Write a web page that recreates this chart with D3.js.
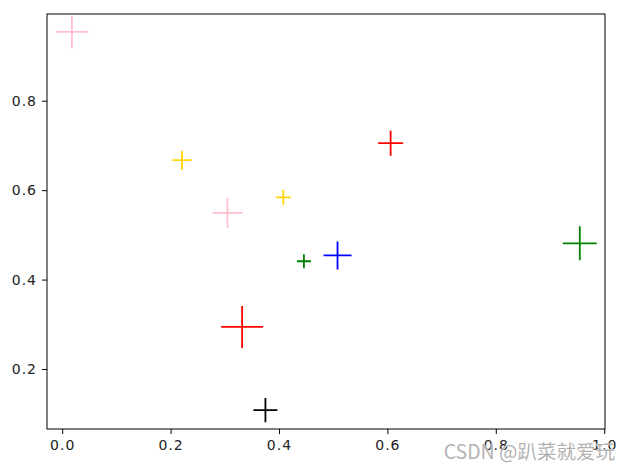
<!DOCTYPE html>
<html><head><meta charset="utf-8">
<script src="https://cdn.jsdelivr.net/npm/d3@7"></script>
<style>
html,body{margin:0;padding:0;background:#fff;}
svg{display:block;}
</style></head>
<body>
<script>
// data
const xValues = [0.018, 0.221, 0.305, 0.408, 0.446, 0.508, 0.955, 0.332, 0.375, 0.606];
const yValues = [0.954, 0.667, 0.549, 0.584, 0.441, 0.454, 0.481, 0.294, 0.108, 0.705];
const sizeValues = [564, 187, 466, 117, 102, 406, 599, 914, 299, 324];
const colorNames = ["pink", "gold", "pink", "gold", "green", "blue", "green", "red", "black", "red"];
const xTicks = [0.0, 0.2, 0.4, 0.6, 0.8, 1.0];
const yTicks = [0.2, 0.4, 0.6, 0.8];
const watermark = "CSDN @趴菜就爱玩";

const W = 630, H = 470;
const L = 47, R = 605, T = 14, B = 429;
const svg = d3.select("body").append("svg").attr("width", W).attr("height", H);

const x = d3.scaleLinear().domain([-0.028, 1.0015]).range([L, R]);
const y = d3.scaleLinear().domain([0.0658, 0.994]).range([B, T]);
const s = d3.scaleSqrt().domain([0, 1000]).range([0, Math.sqrt(1000) * 1.389]);

const font = "'DejaVu Sans', sans-serif";

// markers
const g = svg.append("g");
xValues.forEach((xv, i) => {
  const cx = x(xv), cy = y(yValues[i]), h = s(sizeValues[i]) / 2;
  const p = d3.path();
  p.moveTo(cx - h, cy); p.lineTo(cx + h, cy);
  p.moveTo(cx, cy - h); p.lineTo(cx, cy + h);
  g.append("path").attr("d", p.toString()).attr("stroke", colorNames[i])
    .attr("stroke-width", 1.8).attr("fill", "none");
});

// axes
const xa = svg.append("g").attr("transform", `translate(0,${B})`)
  .call(d3.axisBottom(x).tickValues(xTicks).tickFormat(d3.format(".1f")).tickSize(5).tickPadding(6));
const ya = svg.append("g").attr("transform", `translate(${L},0)`)
  .call(d3.axisLeft(y).tickValues(yTicks).tickFormat(d3.format(".1f")).tickSize(5).tickPadding(5));
[xa, ya].forEach(a => {
  a.select(".domain").remove();
  a.selectAll("line").attr("stroke", "#000").attr("stroke-width", 1);
  a.selectAll("text").attr("font-family", font).attr("font-size", 14).attr("fill", "#222")
    .style("letter-spacing", "1px");
});

// frame
svg.append("rect").attr("x", L).attr("y", T).attr("width", R - L).attr("height", B - T)
  .attr("fill", "none").attr("stroke", "#000").attr("stroke-width", 1);

// watermark
svg.append("text").attr("x", 615).attr("y", 459).attr("text-anchor", "end")
  .attr("font-family", "'Noto Sans CJK SC', sans-serif").attr("font-size", 19.5)
  .attr("fill", "#a8a8a8").attr("stroke", "#fff").attr("stroke-width", 0.6).attr("paint-order", "stroke")
  .attr("fill-opacity", 0.9)
  .text(watermark);
</script>
</body></html>
